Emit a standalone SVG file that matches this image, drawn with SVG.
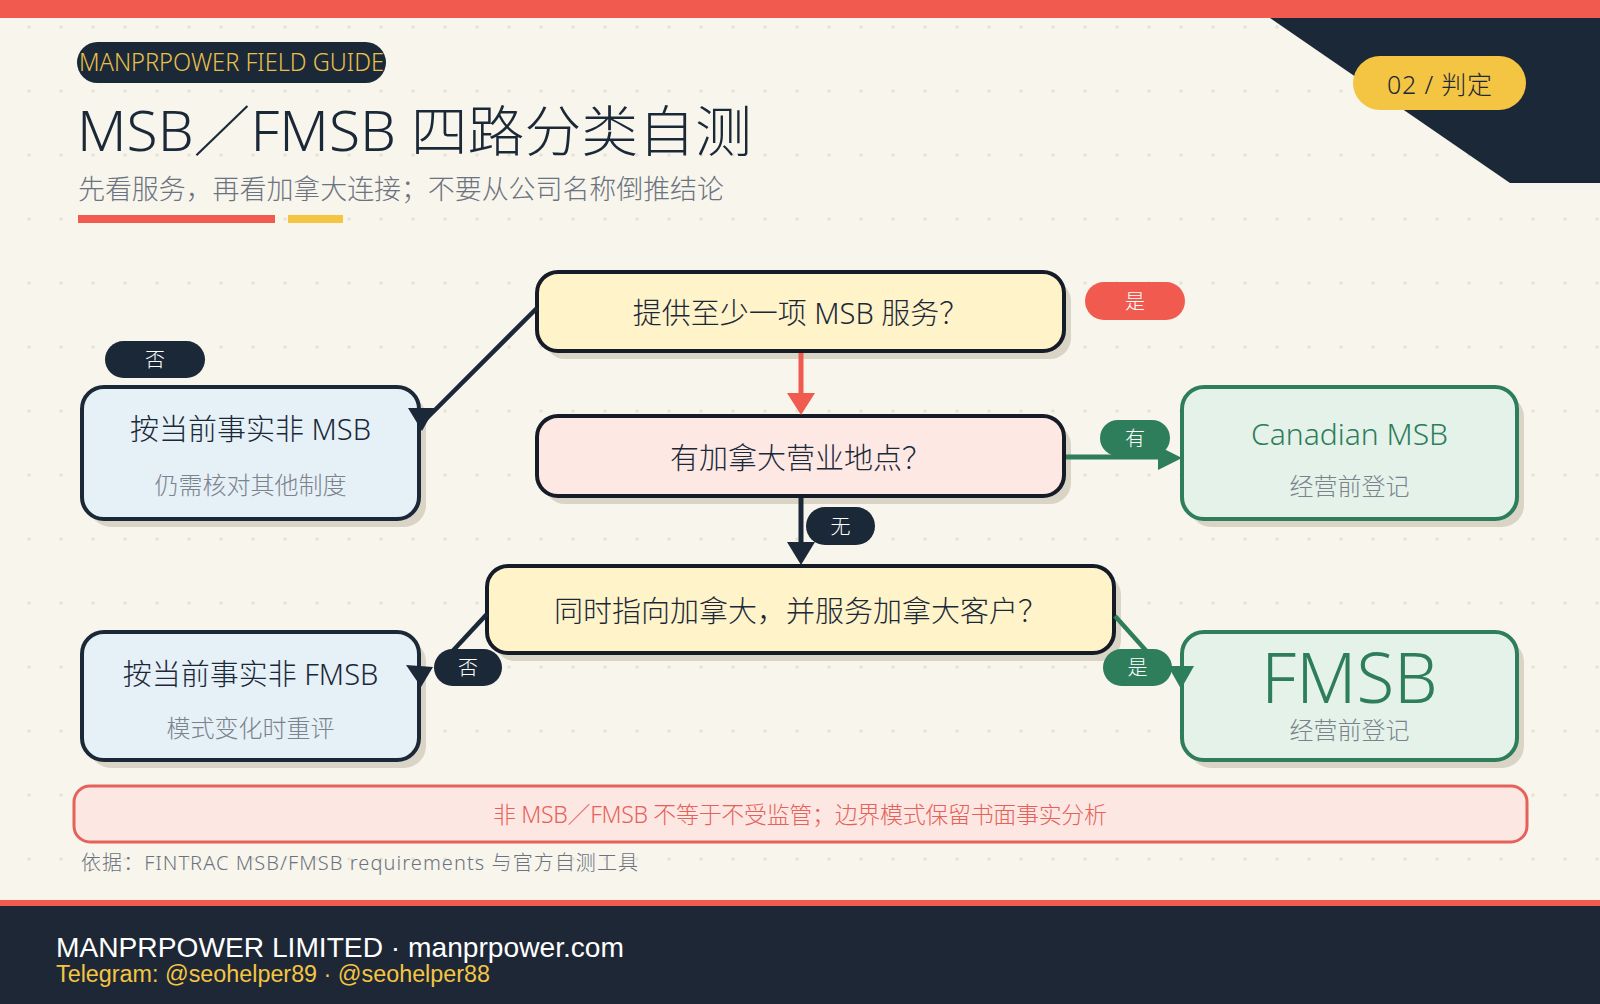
<svg xmlns="http://www.w3.org/2000/svg" width="1600" height="1004" viewBox="0 0 1600 1004">
<defs>
<pattern id="grid" x="0" y="0" width="32" height="64" patternUnits="userSpaceOnUse">
<path d="M27,27 H31 M29,25 V29 M43,59 H47 M45,57 V61" stroke="#E2DDD1" stroke-width="1" fill="none"/>
</pattern>
<style>
.cjk{font-family:"Noto Sans","Noto Sans CJK SC",sans-serif;font-weight:300;}
.lat{font-family:"Liberation Sans",Arial,sans-serif;}
.shadow{fill:#D9D4C5;}
.q{stroke:#161C27;stroke-width:4;}
.qy{fill:#FFF3C9;}
.qp{fill:#FDE8E4;}
.nb{fill:#E6F0F7;stroke:#1B2838;stroke-width:4;}
.ng{fill:#E4F2EA;stroke:#2E7D5B;stroke-width:4;}
.qt{font-size:29px;fill:#1B2838;text-anchor:middle;dominant-baseline:central;}
.sub{font-size:24px;fill:#7A828C;text-anchor:middle;dominant-baseline:central;}
.lbl{font-size:20px;fill:#FFFFFF;text-anchor:middle;dominant-baseline:central;}
.dark{fill:#1B2838;}
.green{fill:#2E7D5B;}
.red{fill:#F05A4F;}
</style>
</defs>
<rect x="0" y="0" width="1600" height="1004" fill="#F8F5EC"/>
<rect x="0" y="0" width="1600" height="1004" fill="url(#grid)"/>
<rect x="0" y="0" width="1600" height="18" fill="#F05A4F"/>
<polygon points="1270,18 1600,18 1600,183 1510,183" fill="#1B2838"/>
<g id="badge">
<rect x="1353" y="56" width="173" height="54" rx="27" fill="#F4C542"/>
<text x="1439.5" y="84" class="cjk" font-size="25" fill="#1B2838" text-anchor="middle" dominant-baseline="central" textLength="105" lengthAdjust="spacing">02 / 判定</text>
</g>
<g id="header">
<rect x="77" y="42" width="309" height="41" rx="20.5" fill="#1B2838"/>
<text x="79" y="71" class="cjk" font-size="25" fill="#E8C04A" textLength="305" lengthAdjust="spacingAndGlyphs">MANPRPOWER FIELD GUIDE</text>
<text x="77" y="129" class="cjk" font-size="55" fill="#1B2838" dominant-baseline="central" textLength="675" lengthAdjust="spacingAndGlyphs">MSB／FMSB 四路分类自测</text>
<text x="78" y="188.5" class="cjk" font-size="27" fill="#6B7380" dominant-baseline="central" textLength="646" lengthAdjust="spacing">先看服务，再看加拿大连接；不要从公司名称倒推结论</text>
<rect x="78" y="215" width="197" height="8" fill="#F05A4F"/>
<rect x="288" y="215" width="55" height="8" fill="#F4C542"/>
</g>
<g id="q1">
<rect x="544" y="280" width="527" height="79" rx="21" class="shadow"/>
<rect x="537" y="272" width="527" height="79" rx="21" class="q qy"/>
<text x="800.5" y="312" class="cjk qt">提供至少一项 MSB 服务？</text>
</g>
<g id="q2">
<rect x="544" y="424" width="527" height="80" rx="21" class="shadow"/>
<rect x="537" y="416" width="527" height="80" rx="21" class="q qp"/>
<text x="800.5" y="457" class="cjk qt">有加拿大营业地点？</text>
</g>
<g id="q3">
<rect x="494" y="574" width="627" height="87" rx="21" class="shadow"/>
<rect x="487" y="566" width="627" height="87" rx="21" class="q qy"/>
<text x="800.5" y="610" class="cjk qt">同时指向加拿大，并服务加拿大客户？</text>
</g>
<g id="non-msb">
<rect x="89" y="395" width="337" height="132" rx="22" class="shadow"/>
<rect x="82" y="387" width="337" height="132" rx="22" class="nb"/>
<text x="250.5" y="428" class="cjk qt">按当前事实非 MSB</text>
<text x="250.5" y="484" class="cjk sub">仍需核对其他制度</text>
</g>
<g id="non-fmsb">
<rect x="89" y="640" width="337" height="128" rx="22" class="shadow"/>
<rect x="82" y="632" width="337" height="128" rx="22" class="nb"/>
<text x="250.5" y="673" class="cjk qt">按当前事实非 FMSB</text>
<text x="250.5" y="727" class="cjk sub">模式变化时重评</text>
</g>
<g id="canadian-msb">
<rect x="1189" y="395" width="335" height="132" rx="22" class="shadow"/>
<rect x="1182" y="387" width="335" height="132" rx="22" class="ng"/>
<text x="1349.5" y="445" class="cjk" font-size="30" fill="#2E7D5B" text-anchor="middle">Canadian MSB</text>
<text x="1349.5" y="485" class="cjk sub">经营前登记</text>
</g>
<g id="fmsb">
<rect x="1189" y="640" width="335" height="128" rx="22" class="shadow"/>
<rect x="1182" y="632" width="335" height="128" rx="22" class="ng"/>
<text x="1349.5" y="703" class="cjk" font-size="69" fill="#2E7D5B" text-anchor="middle">FMSB</text>
<text x="1349.5" y="729" class="cjk sub">经营前登记</text>
</g>
<g id="connectors">
<line x1="801" y1="353" x2="801" y2="396" stroke="#F05A4F" stroke-width="5"/>
<polygon points="787,393 815,393 801,415" fill="#F05A4F"/>
<line x1="801" y1="498" x2="801" y2="545" stroke="#1B2838" stroke-width="5"/>
<polygon points="787,542 815,542 801,565" fill="#1B2838"/>
<line x1="537" y1="308" x2="425" y2="420" stroke="#1B2838" stroke-width="4.5"/>
<polygon points="408,408 435,408 422,431" fill="#1B2838"/>
<line x1="487" y1="614" x2="448" y2="656" stroke="#1B2838" stroke-width="4.5"/>
<polygon points="406,665 433,667 421,687" fill="#1B2838"/>
<line x1="1066" y1="457" x2="1165" y2="457" stroke="#2E7D5B" stroke-width="5"/>
<polygon points="1158,446 1182,458 1158,470" fill="#2E7D5B"/>
<line x1="1115" y1="616" x2="1150" y2="655" stroke="#2E7D5B" stroke-width="4.5"/>
<polygon points="1168,666 1194,666 1181,689" fill="#2E7D5B"/>
</g>
<g id="labels">
<g id="lbl-no1"><rect x="105" y="341" width="100" height="37" rx="18.5" class="dark"/><text x="155" y="359.5" class="cjk lbl">否</text></g>
<g id="lbl-yes1"><rect x="1085" y="282" width="100" height="38" rx="19" class="red"/><text x="1135" y="301" class="cjk lbl">是</text></g>
<g id="lbl-none"><rect x="806" y="507" width="69" height="38" rx="19" class="dark"/><text x="840.5" y="526" class="cjk lbl">无</text></g>
<g id="lbl-have"><rect x="1100" y="420" width="70" height="36" rx="18" class="green"/><text x="1135" y="438" class="cjk lbl">有</text></g>
<g id="lbl-no2"><rect x="434" y="649" width="68" height="37" rx="18.5" class="dark"/><text x="468" y="667.5" class="cjk lbl">否</text></g>
<g id="lbl-yes2"><rect x="1103" y="649" width="69" height="37" rx="18.5" class="green"/><text x="1137.5" y="667.5" class="cjk lbl">是</text></g>
</g>
<g id="note">
<rect x="74" y="786" width="1453" height="56" rx="16" fill="#FDE7E3" stroke="#E5625A" stroke-width="3"/>
<text x="800" y="814" class="cjk" font-size="23" fill="#E5625A" text-anchor="middle" dominant-baseline="central" textLength="614" lengthAdjust="spacing">非 MSB／FMSB 不等于不受监管；边界模式保留书面事实分析</text>
<text x="81" y="862" class="cjk" font-size="20" fill="#6B7380" dominant-baseline="central" textLength="557" lengthAdjust="spacing">依据：FINTRAC MSB/FMSB requirements 与官方自测工具</text>
</g>
<g id="footer">
<rect x="0" y="900" width="1600" height="6" fill="#F05A4F"/>
<rect x="0" y="906" width="1600" height="98" fill="#1E2736"/>
<text x="56" y="957" class="lat" font-size="28" fill="#FFFFFF" textLength="568" lengthAdjust="spacingAndGlyphs">MANPRPOWER LIMITED · manprpower.com</text>
<text x="56" y="982" class="lat" font-size="23" fill="#F4C542" textLength="434" lengthAdjust="spacingAndGlyphs">Telegram: @seohelper89 · @seohelper88</text>
</g>
</svg>
